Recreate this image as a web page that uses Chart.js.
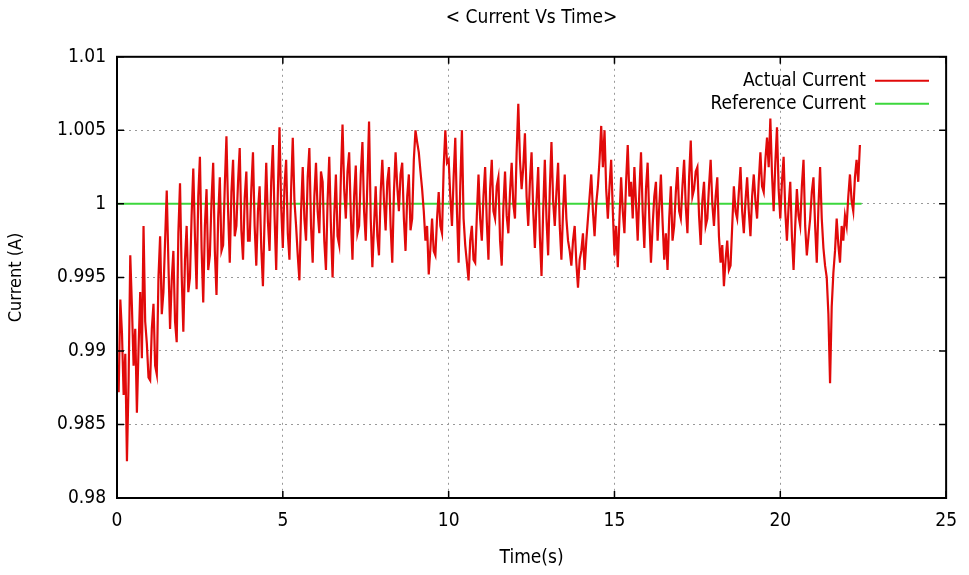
<!DOCTYPE html>
<html>
<head>
<meta charset="utf-8">
<script src="https://cdn.jsdelivr.net/npm/chart.js@4.4.1/dist/chart.umd.min.js"></script>
<style>
  html, body { margin: 0; padding: 0; background: #fff; }
  #wrap { width: 969px; height: 575px; }
</style>
</head>
<body>
<div id="wrap"><canvas id="Chart"></canvas></div>
<script>
// 測定データ (0.05秒ごと)
const sampleStep = 0.05;
const actualCurrent = [
  0.9890, 0.9872, 0.9935, 0.9912, 0.9870, 0.9898, 0.9825, 0.9880, 0.9965, 0.9930, 0.9890, 0.9915, 0.9858, 0.9902, 0.9940, 0.9895, 0.9985, 0.9920, 0.9905, 0.9882,
  0.9880, 0.9915, 0.9932, 0.9890, 0.9884, 0.9950, 0.9978, 0.9925, 0.9940, 0.9975, 1.0009, 0.9960, 0.9915, 0.9948, 0.9968, 0.9920, 0.9906, 0.9980, 1.0014, 0.9952,
  0.9913, 0.9962, 0.9985, 0.9940, 0.9950, 0.9992, 1.0024, 0.9978, 0.9942, 1.0005, 1.0032, 0.9970, 0.9933, 0.9985, 1.0010, 0.9955, 0.9965, 1.0002, 1.0028, 0.9968,
  0.9938, 0.9990, 1.0018, 0.9968, 0.9972, 1.0012, 1.0046, 0.9995, 0.9960, 1.0008, 1.0030, 0.9978, 0.9985, 1.0015, 1.0038, 0.9982, 0.9962, 1.0004, 1.0022, 0.9975,
  0.9975, 1.0010, 1.0035, 0.9985, 0.9958, 0.9995, 1.0012, 0.9970, 0.9944, 0.9990, 1.0028, 0.9988, 0.9968, 1.0015, 1.0040, 0.9992, 0.9955, 1.0008, 1.0052, 0.9998,
  0.9970, 1.0012, 1.0030, 0.9980, 0.9962, 1.0010, 1.0045, 1.0002, 0.9985, 0.9965, 0.9948, 0.9995, 1.0025, 0.9990, 0.9975, 1.0018, 1.0038, 0.9985, 0.9960, 1.0005,
  1.0028, 0.9995, 0.9980, 1.0022, 1.0015, 0.9975, 0.9955, 1.0002, 1.0032, 0.9985, 0.9950, 0.9992, 1.0020, 0.9978, 0.9972, 1.0018, 1.0054, 1.0010, 0.9990, 1.0022,
  1.0035, 0.9992, 0.9962, 1.0005, 1.0026, 0.9980, 0.9985, 1.0020, 1.0042, 0.9995, 0.9975, 1.0015, 1.0056, 0.9990, 0.9957, 0.9985, 1.0012, 0.9978, 0.9965, 1.0008,
  1.0030, 1.0002, 0.9982, 1.0015, 1.0025, 0.9985, 0.9960, 1.0008, 1.0035, 1.0012, 0.9995, 1.0020, 1.0028, 0.9990, 0.9968, 1.0005, 1.0020, 0.9982, 0.9990, 1.0030,
  1.0050, 1.0042, 1.0035, 1.0022, 1.0010, 0.9995, 0.9975, 0.9985, 0.9952, 0.9970, 0.9990, 0.9968, 0.9965, 0.9990, 1.0008, 0.9985, 0.9980, 1.0025, 1.0050, 1.0028,
  1.0030, 1.0005, 0.9985, 1.0018, 1.0045, 0.9995, 0.9960, 1.0012, 1.0050, 0.9990, 0.9972, 0.9960, 0.9948, 0.9975, 0.9985, 0.9962, 0.9960, 0.9992, 1.0020, 0.9990,
  0.9975, 1.0005, 1.0025, 0.9988, 0.9962, 1.0010, 1.0030, 0.9995, 0.9990, 1.0012, 1.0018, 0.9975, 0.9958, 0.9998, 1.0022, 0.9992, 0.9980, 1.0008, 1.0028, 1.0000,
  0.9990, 1.0035, 1.0068, 1.0030, 1.0010, 1.0025, 1.0048, 1.0005, 0.9985, 1.0015, 1.0035, 0.9995, 0.9970, 1.0002, 1.0025, 0.9978, 0.9951, 0.9995, 1.0030, 0.9990,
  0.9965, 1.0010, 1.0042, 1.0002, 0.9985, 1.0008, 1.0028, 0.9985, 0.9962, 0.9995, 1.0020, 0.9990, 0.9975, 0.9968, 0.9958, 0.9975, 0.9985, 0.9960, 0.9943, 0.9962,
  0.9968, 0.9980, 0.9955, 0.9975, 0.9990, 1.0005, 1.0020, 0.9995, 0.9978, 1.0000, 1.0012, 1.0030, 1.0053, 1.0025, 1.0050, 1.0010, 0.9990, 1.0012, 1.0030, 0.9995,
  0.9965, 0.9985, 0.9957, 0.9990, 1.0018, 0.9995, 0.9980, 1.0015, 1.0040, 1.0005, 1.0015, 0.9990, 1.0025, 1.0000, 0.9975, 1.0008, 1.0035, 0.9995, 0.9970, 1.0010,
  1.0028, 0.9990, 0.9960, 0.9985, 1.0005, 1.0015, 0.9975, 0.9998, 1.0020, 0.9988, 0.9962, 0.9980, 0.9955, 0.9990, 1.0012, 0.9975, 0.9985, 1.0008, 1.0025, 0.9995,
  0.9990, 1.0012, 1.0030, 0.9998, 0.9980, 1.0018, 1.0043, 1.0005, 1.0010, 1.0022, 1.0025, 0.9992, 0.9972, 1.0002, 1.0015, 0.9985, 0.9990, 1.0012, 1.0030, 1.0000,
  0.9985, 1.0005, 1.0018, 0.9978, 0.9960, 0.9972, 0.9944, 0.9962, 0.9975, 0.9955, 0.9958, 0.9985, 1.0012, 0.9995, 0.9990, 1.0008, 1.0025, 0.9995, 0.9980, 1.0002,
  1.0018, 0.9995, 0.9978, 1.0005, 1.0020, 1.0002, 0.9990, 1.0015, 1.0035, 1.0012, 1.0008, 1.0030, 1.0045, 1.0025, 1.0058, 1.0020, 0.9995, 1.0028, 1.0052, 1.0010,
  0.9990, 1.0015, 1.0032, 0.9995, 0.9975, 0.9998, 1.0015, 0.9978, 0.9955, 0.9985, 1.0010, 0.9992, 0.9985, 1.0012, 1.0030, 0.9985, 0.9965, 0.9978, 0.9990, 1.0008,
  1.0018, 0.9985, 0.9960, 0.9998, 1.0025, 0.9990, 0.9970, 0.9958, 0.9950, 0.9925, 0.9878, 0.9930, 0.9953, 0.9968, 0.9990, 0.9972, 0.9960, 0.9985, 0.9975, 0.9992,
  0.9985, 1.0005, 1.0020, 1.0002, 0.9995, 1.0018, 1.0030, 1.0015, 1.0040
];
// 目標電流
const refTime = [0, 22.45];
const refCurrent = [1, 1];

const xTicks = [0, 5, 10, 15, 20, 25];
const yTicks = [0.98, 0.985, 0.99, 0.995, 1, 1.005, 1.01];

const actualPoints = actualCurrent.map((v, i) => ({ x: i * sampleStep, y: v }));
const refPoints = refCurrent.map((v, i) => ({ x: refTime[i], y: v }));

const FONT = "'DejaVu Sans Condensed', 'Liberation Sans Narrow', 'DejaVu Sans', sans-serif";

// 枠線・内向き目盛り・凡例を描く
const framePlugin = {
  id: 'frame',
  afterDatasetsDraw(chart) {
    const ctx = chart.ctx;
    const a = chart.chartArea;
    const xs = chart.scales.x, ys = chart.scales.y;
    ctx.save();
    ctx.strokeStyle = '#000';
    ctx.lineWidth = 2;
    ctx.strokeRect(a.left, a.top, a.right - a.left, a.bottom - a.top);
    ctx.lineWidth = 1.5;
    ctx.beginPath();
    xTicks.forEach(t => {
      const px = xs.getPixelForValue(t);
      ctx.moveTo(px, a.bottom); ctx.lineTo(px, a.bottom - 7);
      ctx.moveTo(px, a.top); ctx.lineTo(px, a.top + 7);
    });
    yTicks.forEach(t => {
      const py = ys.getPixelForValue(t);
      ctx.moveTo(a.left, py); ctx.lineTo(a.left + 7, py);
      ctx.moveTo(a.right, py); ctx.lineTo(a.right - 7, py);
    });
    ctx.stroke();

    // 凡例
    ctx.font = '19px ' + FONT;
    ctx.textAlign = 'right';
    ctx.textBaseline = 'middle';
    chart.data.datasets.forEach((ds, i) => {
      const y = a.top + 24 + i * 23;
      ctx.fillStyle = '#000';
      ctx.fillText(ds.label, 866, y);
      ctx.strokeStyle = ds.borderColor;
      ctx.lineWidth = 2;
      ctx.beginPath();
      ctx.moveTo(875, y); ctx.lineTo(929, y);
      ctx.stroke();
    });
    ctx.restore();
  }
};

let lineCtx = document.getElementById("Chart");
let lineConfig = {
  type: 'line',
  data: {
    datasets: [{
      label: 'Actual Current',
      data: actualPoints,
      borderColor: 'rgb(225,10,10)',
      borderWidth: 2.2,
      pointRadius: 0,
      tension: 0,
    }, {
      label: 'Reference Current',
      data: refPoints,
      borderColor: 'rgb(60,215,60)',
      borderWidth: 2,
      pointRadius: 0,
    }],
  },
  options: {
    responsive: true,
    maintainAspectRatio: false,
    animation: false,
    layout: { padding: { left: 0, right: 19, top: 0, bottom: 0 } },
    plugins: {
      legend: { display: false },
      tooltip: { enabled: false },
      title: {
        display: true,
        fullSize: false,
        text: '< Current Vs Time>',
        color: '#000',
        font: { family: FONT, size: 19, weight: 'normal', lineHeight: 1.2 },
        padding: { top: 7, bottom: 27 },
      },
    },
    scales: {
      x: {
        type: 'linear',
        min: 0,
        max: 25,
        afterBuildTicks: s => { s.ticks = xTicks.map(v => ({ value: v })); },
        afterFit: s => { s.height = 77; },
        grid: { color: '#999', borderDash: [2, 4], drawTicks: false, lineWidth: 1 },
        border: { display: false, dash: [2, 4] },
        ticks: { color: '#000', padding: 12, font: { family: FONT, size: 19 }, maxRotation: 0 },
        title: { display: true, text: 'Time(s)', color: '#000', padding: { top: 0, bottom: 6 }, font: { family: FONT, size: 19 } },
      },
      y: {
        min: 0.98,
        max: 1.01,
        afterBuildTicks: s => { s.ticks = yTicks.map(v => ({ value: v })); },
        afterFit: s => { s.width = 117; },
        grid: { color: '#999', borderDash: [2, 4], drawTicks: false, lineWidth: 1 },
        border: { display: false, dash: [2, 4] },
        ticks: {
          color: '#000', padding: 11, font: { family: FONT, size: 19 },
          callback: v => String(Number(v.toFixed(3))),
        },
        title: { display: true, text: 'Current (A)', color: '#000', padding: { top: 6, bottom: 0 }, font: { family: FONT, size: 18 } },
      },
    },
  },
  plugins: [framePlugin],
};
let lineChart = new Chart(lineCtx, lineConfig);
</script>
</body>
</html>
